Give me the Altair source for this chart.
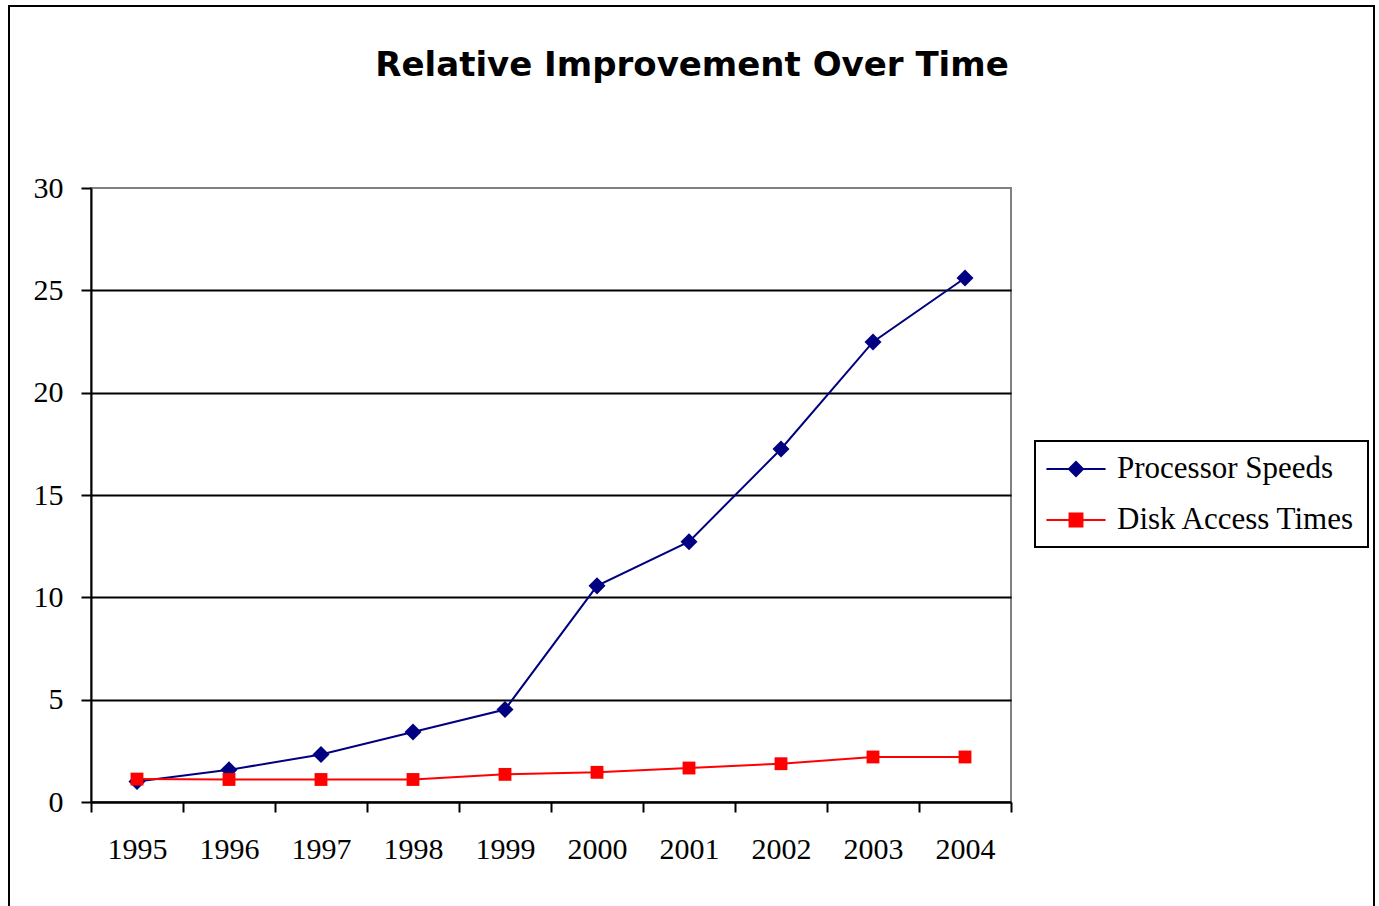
import altair as alt
import pandas as pd

years = ["1995", "1996", "1997", "1998", "1999", "2000", "2001", "2002", "2003", "2004"]
processor = [1.0, 1.57, 2.32, 3.42, 4.52, 10.56, 12.72, 17.25, 22.48, 25.6]
disk = [1.12, 1.1, 1.1, 1.1, 1.35, 1.45, 1.66, 1.87, 2.2, 2.2]
series_names = ["Processor Speeds", "Disk Access Times"]
series_colors = ["#000080", "#FF0000"]
legend_shapes = [
    "M-1.97,0L1.97,0M-0.47,0L0,-0.47L0.47,0L0,0.47Z",
    "M-1.97,0L1.97,0M-0.43,-0.43L0.43,-0.43L0.43,0.43L-0.43,0.43Z",
]
y_ticks = [0, 5, 10, 15, 20, 25, 30]
title_text = "Relative Improvement Over Time"

df = pd.DataFrame({
    "year": years * 2,
    "value": processor + disk,
    "series": [series_names[0]] * len(years) + [series_names[1]] * len(years),
})

SERIF = "Liberation Serif"

x_enc = alt.X(
    "year:O",
    scale=alt.Scale(type="band", paddingInner=0, paddingOuter=0),
    bandPosition=0.5,
    axis=alt.Axis(
        title=None, labelAngle=0, tickBand="extent", tickSize=10, tickWidth=2,
        tickColor="black", domainColor="black", domainWidth=2,
        labelFont=SERIF, labelFontSize=30, labelColor="black", labelPadding=22,
    ),
)
y_enc = alt.Y(
    "value:Q",
    scale=alt.Scale(domain=[0, 30], nice=False),
    axis=alt.Axis(
        title=None, values=y_ticks, tickSize=10, tickWidth=2, tickColor="black",
        domainColor="black", domainWidth=2, grid=True,
        gridColor={"condition": {"test": "datum.value >= 30", "value": "transparent"}, "value": "black"},
        gridWidth=2, labelFont=SERIF, labelFontSize=30, labelColor="black", labelPadding=18,
    ),
)


def make_legend():
    return alt.Legend(
        title=None, orient="none", legendX=944, legendY=253,
        symbolSize=900, symbolStrokeWidth=2, symbolOffset=13, symbolOpacity=1,
        labelFont=SERIF, labelFontSize=31, labelColor="black", labelOffset=25,
        labelLimit=0, padding=12, rowPadding=20, strokeColor="black",
    )


color_enc_leg = alt.Color(
    "series:N", scale=alt.Scale(domain=series_names, range=series_colors), legend=make_legend()
)
color_enc = alt.Color("series:N", scale=alt.Scale(domain=series_names, range=series_colors), legend=None)

one_row = pd.DataFrame({"k": [0]})

frame = alt.Chart(one_row).mark_rect(
    fill="transparent", stroke="black", strokeWidth=2
).encode(x=alt.value(-82), x2=alt.value(1283), y=alt.value(-182), y2=alt.value(730))

title = alt.Chart(one_row).mark_text(
    text=title_text, font="DejaVu Sans", fontSize=34, fontWeight="bold",
    align="center", baseline="alphabetic", color="black",
).encode(x=alt.value(601), y=alt.value(-112))

lines = alt.Chart(df).mark_line(strokeWidth=2).encode(x=x_enc, y=y_enc, color=color_enc_leg)

proc_pts = alt.Chart(df).transform_filter(
    alt.datum.series == series_names[0]
).mark_point(shape="diamond", filled=True, size=290, opacity=1).encode(x=x_enc, y=y_enc, color=color_enc)

disk_pts = alt.Chart(df).transform_filter(
    alt.datum.series == series_names[1]
).mark_point(shape="square", filled=True, size=165, opacity=1).encode(x=x_enc, y=y_enc, color=color_enc)

legend_layer = alt.Chart(df).transform_filter("false").mark_point(
    filled=True, opacity=1, strokeWidth=2
).encode(
    x=x_enc, y=y_enc,
    fill=alt.Fill("series:N", scale=alt.Scale(domain=series_names, range=series_colors), legend=make_legend()),
    stroke=alt.Stroke("series:N", scale=alt.Scale(domain=series_names, range=series_colors), legend=make_legend()),
    shape=alt.Shape("series:N", scale=alt.Scale(domain=series_names, range=legend_shapes), legend=make_legend()),
)

chart = alt.layer(frame, title, lines, proc_pts, disk_pts, legend_layer).properties(
    width=920, height=614,
    autosize=alt.AutoSizeParams(type="none"),
    padding={"left": 91, "top": 188, "right": 368, "bottom": 104},
    background="white",
).configure_view(stroke="#808080", strokeWidth=2).configure_legend(strokeWidth=2)

chart.save("out.html", embed_options={"renderer": "svg", "actions": False})
